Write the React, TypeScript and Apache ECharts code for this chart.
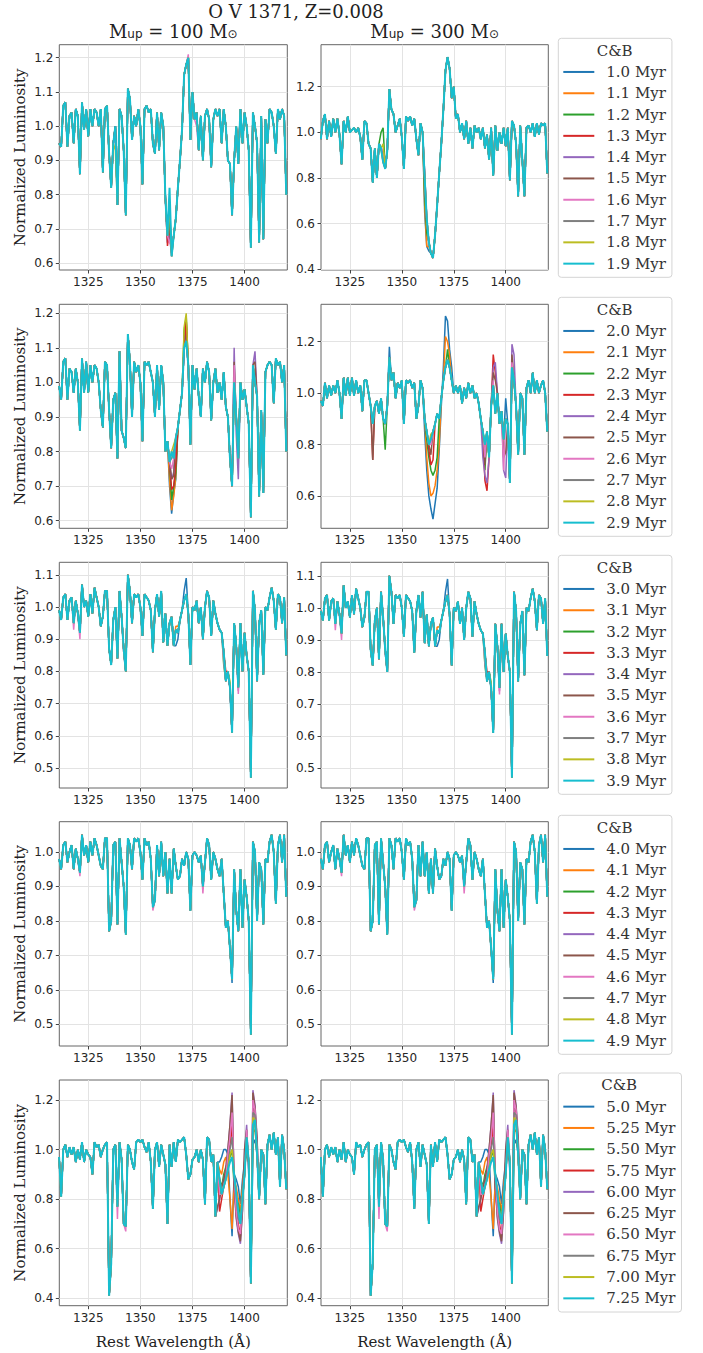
import React, { useEffect, useRef } from 'react';
import * as echarts from 'echarts';

// ---------------- DATA ----------------
const WAVELENGTHS: number[] = Array.from({ length: 110 }, (_, i) => 1311 + i);
const X_TICKS = [1325, 1350, 1375, 1400];

const TITLE = 'O V 1371, Z=0.008';
const COLUMN_MASSES = ['100', '300'];
const LEGEND_TITLE = 'C&B';

const AGES_1 = ['1.0 Myr', '1.1 Myr', '1.2 Myr', '1.3 Myr', '1.4 Myr', '1.5 Myr', '1.6 Myr', '1.7 Myr', '1.8 Myr', '1.9 Myr'];
const AGES_2 = ['2.0 Myr', '2.1 Myr', '2.2 Myr', '2.3 Myr', '2.4 Myr', '2.5 Myr', '2.6 Myr', '2.7 Myr', '2.8 Myr', '2.9 Myr'];
const AGES_3 = ['3.0 Myr', '3.1 Myr', '3.2 Myr', '3.3 Myr', '3.4 Myr', '3.5 Myr', '3.6 Myr', '3.7 Myr', '3.8 Myr', '3.9 Myr'];
const AGES_4 = ['4.0 Myr', '4.1 Myr', '4.2 Myr', '4.3 Myr', '4.4 Myr', '4.5 Myr', '4.6 Myr', '4.7 Myr', '4.8 Myr', '4.9 Myr'];
const AGES_5 = ['5.0 Myr', '5.25 Myr', '5.50 Myr', '5.75 Myr', '6.00 Myr', '6.25 Myr', '6.50 Myr', '6.75 Myr', '7.00 Myr', '7.25 Myr'];

const COLORS = ['#1f77b4', '#ff7f0e', '#2ca02c', '#d62728', '#9467bd', '#8c564b', '#e377c2', '#7f7f7f', '#bcbd22', '#17becf'];

const Y_TICKS_A = [0.6, 0.7, 0.8, 0.9, 1.0, 1.1, 1.2];
const Y_TICKS_B = [0.4, 0.6, 0.8, 1.0, 1.2];
const Y_TICKS_C = [0.6, 0.8, 1.0, 1.2];
const Y_TICKS_D = [0.5, 0.6, 0.7, 0.8, 0.9, 1.0, 1.1];
const Y_TICKS_E = [0.5, 0.6, 0.7, 0.8, 0.9, 1.0];

// Base spectra (line drawn on top, 1311..1420 A, 1 A steps)
const SPEC_1_100 = [
  0.95, 0.94, 1.06, 1.07, 0.94, 1.03, 1.04, 0.95, 1.05, 1.03,
  0.86, 1.07, 0.99, 1.05, 0.97, 1.05, 1.00, 1.05, 1.04, 1.00,
  1.05, 0.865, 1.05, 1.06, 0.92, 0.82, 0.95, 1.00, 0.77, 1.05,
  1.03, 0.93, 0.74, 1.11, 1.08, 0.96, 1.03, 1.00, 1.05, 1.00,
  0.83, 1.05, 1.06, 1.04, 1.05, 0.95, 0.92, 1.04, 0.93, 1.04,
  1.00, 0.79, 0.68, 0.82, 0.62, 0.68, 0.73, 0.82, 0.90, 0.99,
  1.15, 1.18, 1.20, 0.96, 1.10, 1.02, 1.04, 0.93, 1.03, 0.90,
  1.03, 1.05, 1.02, 0.88, 1.02, 1.05, 1.03, 1.05, 0.95, 1.05,
  1.00, 0.90, 0.89, 0.74, 0.90, 1.00, 0.89, 1.05, 0.95, 1.04,
  1.00, 0.93, 0.645, 1.04, 1.00, 0.95, 0.66, 1.03, 0.67, 1.02,
  0.95, 1.05, 1.04, 1.00, 0.92, 1.05, 1.02, 1.05, 1.03, 0.80,
];
const SPEC_1_300 = [
  0.97, 1.05, 1.08, 0.97, 1.05, 0.98, 1.06, 1.00, 1.06, 0.99,
  0.86, 1.05, 1.00, 1.07, 1.00, 1.01, 1.02, 1.00, 1.02, 0.98,
  0.88, 1.05, 1.04, 0.95, 0.93, 0.78, 0.93, 0.80, 0.95, 0.93,
  0.87, 0.84, 0.92, 1.19, 1.10, 1.08, 1.00, 1.03, 1.06, 0.98,
  0.84, 1.07, 1.05, 1.07, 1.03, 1.06, 0.97, 0.90, 1.04, 1.00,
  0.80, 0.62, 0.52, 0.47, 0.45, 0.55, 0.68, 0.82, 0.95, 1.10,
  1.27, 1.33, 1.28, 1.15, 1.20, 1.06, 1.08, 1.00, 1.04, 0.97,
  1.05, 0.95, 1.02, 0.93, 1.03, 1.00, 1.02, 0.97, 1.02, 0.93,
  0.99, 0.88, 1.02, 0.81, 1.03, 0.92, 1.00, 0.95, 1.02, 0.94,
  1.02, 0.79, 1.05, 1.03, 0.95, 0.72, 1.03, 0.88, 0.72, 1.02,
  1.03, 1.00, 1.04, 0.98, 1.04, 0.99, 1.04, 1.03, 1.04, 0.82,
];
const SPEC_2_100 = [
  0.99, 0.95, 1.06, 1.07, 0.95, 1.04, 1.03, 0.97, 1.04, 1.00,
  0.86, 1.07, 0.97, 1.06, 0.97, 1.05, 1.00, 1.05, 1.04, 1.00,
  0.92, 0.87, 1.06, 1.05, 0.92, 0.81, 0.95, 0.97, 0.78, 1.09,
  0.86, 0.84, 0.81, 1.14, 1.06, 0.90, 1.06, 1.03, 1.05, 1.00,
  0.83, 1.06, 1.05, 1.06, 1.03, 1.00, 0.90, 1.05, 0.92, 1.05,
  1.00, 0.80, 0.83, 0.77, 0.80, 0.78, 0.84, 0.87, 0.92, 0.97,
  1.10, 1.12, 1.05, 0.82, 1.05, 0.98, 1.04, 0.96, 0.90, 1.04,
  1.00, 1.06, 1.03, 0.89, 1.00, 1.04, 0.97, 1.00, 0.95, 1.03,
  0.93, 0.90, 0.78, 0.70, 1.00, 0.90, 0.78, 1.00, 0.95, 0.98,
  0.93, 0.88, 0.61, 1.05, 1.00, 0.96, 0.67, 0.92, 0.68, 1.03,
  1.05, 1.06, 1.05, 0.94, 1.07, 1.05, 1.06, 1.00, 1.05, 0.80,
];
const SPEC_2_300 = [
  0.97, 0.95, 1.04, 0.98, 1.03, 0.99, 1.03, 1.00, 1.05, 1.00,
  0.90, 1.06, 0.99, 1.06, 0.99, 1.06, 0.99, 1.05, 1.00, 1.03,
  0.93, 1.05, 1.05, 1.00, 0.95, 0.88, 0.95, 0.97, 0.92, 0.98,
  0.90, 0.88, 0.95, 1.14, 1.05, 1.08, 0.98, 1.04, 1.02, 1.05,
  0.88, 1.05, 1.04, 1.05, 1.02, 1.04, 0.90, 0.95, 1.05, 1.02,
  0.90, 0.85, 0.80, 0.82, 0.85, 0.88, 0.92, 0.90, 0.98, 1.05,
  1.10, 1.13, 1.10, 1.05, 1.00, 1.03, 1.00, 1.03, 0.96, 1.02,
  0.98, 1.04, 1.00, 1.03, 0.98, 1.00, 0.96, 0.90, 0.85, 0.80,
  0.85, 0.75, 0.95, 1.03, 0.92, 1.00, 0.88, 0.93, 0.82, 0.90,
  0.88, 0.65, 1.10, 1.05, 0.95, 0.76, 1.00, 0.98, 0.76, 1.02,
  1.05, 1.00, 1.08, 1.00, 1.05, 1.00, 1.03, 1.05, 1.00, 0.85,
];
const SPEC_3 = [
  0.99, 0.96, 1.03, 1.04, 0.96, 1.02, 1.03, 0.95, 1.02, 0.98,
  0.92, 1.07, 1.00, 1.02, 0.97, 1.04, 0.98, 1.06, 1.03, 1.00,
  0.94, 0.97, 1.05, 1.05, 0.87, 0.82, 0.96, 1.00, 0.84, 1.05,
  0.97, 0.87, 0.80, 1.10, 1.05, 0.95, 1.04, 1.03, 1.04, 1.00,
  0.91, 1.04, 1.03, 1.02, 0.99, 0.86, 0.99, 1.04, 0.97, 1.05,
  0.89, 0.98, 0.88, 0.95, 0.97, 0.88, 0.93, 0.92, 0.96, 0.99,
  1.02, 1.04, 0.98, 0.82, 1.00, 0.99, 1.02, 0.95, 1.00, 0.90,
  1.00, 1.05, 1.03, 0.91, 1.02, 0.98, 0.95, 0.93, 0.92, 0.86,
  0.77, 0.80, 0.75, 0.61, 0.95, 0.88, 0.75, 0.95, 0.80, 0.92,
  0.85, 0.80, 0.47, 1.05, 0.99, 0.77, 0.95, 0.99, 0.79, 1.00,
  0.99, 1.03, 1.06, 1.02, 0.93, 1.04, 1.03, 0.95, 1.03, 0.85,
];
const SPEC_4 = [
  0.98, 0.95, 1.02, 1.03, 0.97, 1.00, 1.02, 0.95, 1.01, 0.98,
  0.94, 1.05, 0.99, 1.02, 0.97, 1.03, 0.99, 1.04, 1.02, 0.99,
  0.96, 0.95, 1.04, 1.04, 0.77, 0.80, 1.02, 1.03, 0.79, 1.04,
  0.97, 0.90, 0.76, 1.04, 1.02, 0.95, 1.04, 1.03, 1.04, 1.00,
  0.92, 1.04, 1.02, 1.03, 0.98, 0.84, 0.86, 1.02, 0.93, 1.03,
  0.93, 1.00, 0.88, 0.98, 0.88, 1.01, 0.96, 0.92, 0.93, 0.98,
  0.96, 1.00, 0.98, 0.83, 0.99, 1.00, 0.99, 0.97, 0.99, 0.90,
  0.97, 1.04, 1.02, 0.92, 1.00, 0.98, 0.95, 0.93, 0.98, 0.88,
  0.78, 0.80, 0.72, 0.63, 0.95, 0.83, 0.77, 0.95, 0.78, 0.92,
  0.87, 0.80, 0.47, 1.03, 1.00, 0.80, 0.97, 0.95, 0.79, 0.98,
  0.97, 1.03, 1.05, 1.00, 0.85, 1.02, 1.05, 0.97, 1.05, 0.87,
];
const SPEC_5 = [
  0.97, 0.81, 1.00, 1.02, 0.97, 1.01, 0.98, 1.01, 0.95, 1.00,
  0.96, 1.03, 0.95, 1.00, 0.98, 0.97, 0.90, 1.03, 1.01, 1.02,
  0.97, 1.00, 1.02, 1.03, 0.41, 0.54, 1.00, 1.02, 0.77, 1.03,
  0.96, 0.70, 0.69, 1.02, 1.00, 0.95, 0.92, 1.03, 1.04, 1.03,
  1.04, 1.01, 0.99, 1.03, 0.95, 0.76, 1.00, 1.03, 0.93, 1.02,
  0.98, 0.94, 0.70, 1.02, 0.93, 1.03, 0.95, 1.04, 1.03, 1.04,
  1.05, 0.98, 0.88, 0.90, 0.96, 0.97, 1.00, 0.95, 1.00, 0.96,
  0.78, 1.05, 1.04, 0.95, 0.98, 0.73, 0.95, 0.88, 0.82, 0.85,
  0.88, 0.92, 0.95, 0.97, 0.90, 0.82, 0.75, 0.70, 0.80, 0.90,
  1.05, 0.95, 0.46, 1.10, 1.12, 0.98, 0.80, 1.00, 0.98, 0.78,
  1.02, 1.06, 1.00, 1.07, 0.98, 1.05, 0.85, 1.06, 1.00, 0.84,
];

// Where the other ages depart from the top line: [wavelength, value] for series 0..8
type Pt = [number, number];
const VAR_1_100: Pt[][] = [
  [[1363, 0.66], [1364, 0.72], [1365, 0.63]],
  [[1364, 0.75], [1365, 0.64]],
  [[1364, 0.74], [1365, 0.64]],
  [[1363, 0.65], [1364, 0.70], [1365, 0.64]],
  [[1364, 0.68], [1365, 0.62]],
  [[1364, 0.70], [1365, 0.63]],
  [[1338, 0.96], [1364, 0.66], [1365, 0.65], [1373, 1.21], [1377, 1.00]],
  [[1364, 0.78]],
  [[1338, 0.93], [1364, 0.76]],
];
const VAR_1_300: Pt[][] = [
  [[1341, 0.90], [1361, 0.65], [1362, 0.50], [1363, 0.48]],
  [[1361, 0.68], [1362, 0.50], [1363, 0.50]],
  [[1340, 1.00], [1341, 1.02], [1361, 0.72], [1362, 0.56]],
  [[1341, 0.90], [1361, 0.78], [1362, 0.60]],
  [[1341, 0.92], [1361, 0.82], [1362, 0.62]],
  [[1341, 0.90], [1361, 0.82]],
  [[1341, 0.92], [1361, 0.81]],
  [[1361, 0.80]],
  [[1341, 0.95]],
];
const VAR_2_100: Pt[][] = [
  [[1364, 0.70], [1365, 0.62], [1366, 0.68], [1367, 0.72], [1372, 1.15]],
  [[1364, 0.72], [1365, 0.63], [1366, 0.67], [1367, 0.73]],
  [[1365, 0.66], [1366, 0.70], [1367, 0.74], [1371, 1.15], [1372, 1.19]],
  [[1365, 0.69], [1366, 0.70], [1367, 0.76], [1372, 1.18]],
  [[1365, 0.72], [1366, 0.74], [1394, 0.70], [1395, 1.10], [1396, 0.85], [1397, 0.72], [1405, 1.09]],
  [[1365, 0.72], [1366, 0.73], [1395, 1.06], [1405, 1.06]],
  [[1365, 0.75], [1366, 0.78], [1395, 1.05]],
  [[1365, 0.78], [1366, 0.80]],
  [[1365, 0.80], [1366, 0.82], [1371, 1.16], [1372, 1.20]],
];
const VAR_2_300: Pt[][] = [
  [[1344, 1.18], [1361, 0.85], [1362, 0.70], [1363, 0.60], [1364, 0.55], [1365, 0.51], [1366, 0.57], [1367, 0.63], [1368, 0.78], [1369, 0.95], [1370, 1.10], [1371, 1.30], [1372, 1.28], [1373, 1.17], [1374, 1.10], [1400, 0.98]],
  [[1362, 0.75], [1363, 0.65], [1364, 0.60], [1365, 0.61], [1366, 0.64], [1367, 0.70], [1368, 0.80], [1371, 1.22], [1372, 1.20], [1373, 1.15]],
  [[1342, 0.78], [1362, 0.82], [1363, 0.75], [1364, 0.70], [1365, 0.68], [1366, 0.70], [1367, 0.75], [1372, 1.17], [1390, 0.70]],
  [[1336, 0.74], [1363, 0.78], [1364, 0.72], [1365, 0.74], [1390, 0.66], [1391, 0.62], [1394, 1.15], [1395, 1.08]],
  [[1389, 0.75], [1390, 0.68], [1391, 0.65], [1394, 1.10], [1395, 1.12], [1399, 0.70], [1400, 0.67], [1403, 1.19], [1404, 1.15]],
  [[1336, 0.74], [1364, 0.76], [1390, 0.72], [1394, 1.08], [1395, 1.05], [1399, 0.75], [1400, 0.77], [1403, 1.15]],
  [[1364, 0.80], [1390, 0.75], [1394, 1.05], [1399, 0.70], [1403, 1.12]],
  [[1364, 0.83], [1403, 1.10]],
  [[1364, 0.84], [1365, 0.85], [1403, 1.10]],
];
const VAR_3: Pt[][] = [
  [[1367, 0.88], [1368, 0.90], [1371, 1.05], [1372, 1.09]],
  [[1367, 0.94], [1368, 0.94]],
  [[1390, 0.82]],
  [[1391, 0.80]],
  [[1397, 0.74]],
  [[1342, 0.86]],
  [[1318, 0.93], [1321, 0.90], [1342, 0.86], [1390, 0.83], [1397, 0.73]],
  [],
  [[1393, 0.77]],
];
const VAR_4: Pt[][] = [
  [[1394, 0.62]],
  [], [], [], [], [],
  [[1321, 0.93], [1356, 0.83], [1380, 0.88]],
  [], [],
];
const VAR_5: Pt[][] = [
  [[1388, 0.95], [1389, 0.97], [1390, 1.00], [1391, 1.00], [1392, 0.98], [1393, 0.80], [1394, 0.65], [1395, 0.90], [1396, 0.88], [1397, 0.85], [1398, 0.78], [1399, 0.88], [1400, 0.95], [1401, 0.98], [1404, 1.02], [1405, 1.04]],
  [[1388, 0.92], [1389, 0.90], [1390, 0.95], [1391, 0.97], [1392, 0.90], [1393, 0.80], [1394, 0.68], [1395, 0.88], [1396, 0.85], [1397, 0.80], [1398, 0.75], [1399, 0.85], [1400, 0.95], [1401, 1.02], [1404, 1.07], [1405, 1.08]],
  [[1389, 0.85], [1390, 0.90], [1391, 0.93], [1392, 0.95], [1393, 0.97], [1394, 1.00], [1395, 0.85], [1396, 0.80], [1397, 0.78], [1398, 0.72], [1404, 1.12], [1405, 1.10]],
  [[1388, 0.75], [1389, 0.80], [1390, 0.85], [1391, 0.90], [1392, 0.98], [1393, 1.02], [1394, 1.10], [1395, 0.85], [1396, 0.75], [1397, 0.70], [1398, 0.65], [1404, 1.18], [1405, 1.15]],
  [[1387, 0.76], [1388, 0.80], [1389, 0.85], [1390, 0.88], [1391, 0.92], [1392, 1.00], [1393, 1.10], [1394, 1.23], [1395, 0.85], [1396, 0.72], [1397, 0.66], [1398, 0.62], [1399, 0.75], [1400, 1.00], [1401, 1.10], [1402, 0.90], [1404, 1.24], [1405, 1.18], [1406, 1.05]],
  [[1387, 0.77], [1388, 0.80], [1389, 0.85], [1390, 0.88], [1391, 0.92], [1392, 1.00], [1393, 1.10], [1394, 1.22], [1395, 0.86], [1396, 0.73], [1397, 0.67], [1398, 0.63], [1399, 0.76], [1400, 1.00], [1401, 1.08], [1402, 0.92], [1404, 1.23], [1405, 1.17], [1406, 1.04]],
  [[1339, 0.72], [1343, 0.67], [1388, 0.82], [1392, 0.98], [1393, 1.05], [1394, 1.15], [1396, 0.75], [1397, 0.68], [1398, 0.66], [1401, 1.08], [1404, 1.20], [1405, 1.16]],
  [[1393, 1.00], [1394, 1.05], [1397, 0.72], [1398, 0.70], [1404, 1.15], [1405, 1.14]],
  [[1393, 0.98], [1394, 1.00], [1398, 0.72], [1404, 1.13]],
];

// panel definitions (row-major: left = 100 Msun, right = 300 Msun)
const PANELS = [
  { spec: SPEC_1_100, vars: VAR_1_100, yMin: 0.58, yMax: 1.238, yTicks: Y_TICKS_A, names: AGES_1 },
  { spec: SPEC_1_300, vars: VAR_1_300, yMin: 0.397, yMax: 1.384, yTicks: Y_TICKS_B, names: AGES_1 },
  { spec: SPEC_2_100, vars: VAR_2_100, yMin: 0.578, yMax: 1.226, yTicks: Y_TICKS_A, names: AGES_2 },
  { spec: SPEC_2_300, vars: VAR_2_300, yMin: 0.474, yMax: 1.3455, yTicks: Y_TICKS_C, names: AGES_2 },
  { spec: SPEC_3, vars: VAR_3, yMin: 0.438, yMax: 1.139, yTicks: Y_TICKS_D, names: AGES_3 },
  { spec: SPEC_3, vars: VAR_3, yMin: 0.438, yMax: 1.142, yTicks: Y_TICKS_D, names: AGES_3 },
  { spec: SPEC_4, vars: VAR_4, yMin: 0.437, yMax: 1.088, yTicks: Y_TICKS_E, names: AGES_4 },
  { spec: SPEC_4, vars: VAR_4, yMin: 0.437, yMax: 1.088, yTicks: Y_TICKS_E, names: AGES_4 },
  { spec: SPEC_5, vars: VAR_5, yMin: 0.370, yMax: 1.281, yTicks: Y_TICKS_B, names: AGES_5 },
  { spec: SPEC_5, vars: VAR_5, yMin: 0.370, yMax: 1.281, yTicks: Y_TICKS_B, names: AGES_5 },
];
const ROW_NAMES = [AGES_1, AGES_2, AGES_3, AGES_4, AGES_5];

// ---------------- LAYOUT ----------------
const X_MIN = 1311.1;
const X_MAX = 1420.5;
const COL_LEFT = [59.3, 321];
const COL_WIDTH = [228, 227.3];
const ROW_TOP = [44.7, 304.3, 562.3, 821.7, 1080];
const ROW_HEIGHT = [225.3, 224, 225.7, 224.3, 225.7];
const LEGEND_TOP = [38.3, 297.3, 555.3, 815.3, 1073];
const LEGEND_TITLE_X = [614.6, 614.6, 614.6, 614.6, 619.2];

const SERIF = '"DejaVu Serif", serif';
const SANS = '"DejaVu Sans", sans-serif';

function buildData(spec: number[], overrides: Pt[]): [number, number][] {
  const m = new Map<number, number>(overrides);
  return WAVELENGTHS.map((w, i) => [w, m.has(w) ? (m.get(w) as number) : spec[i]]);
}

function buildOption() {
  const grid: any[] = [];
  const xAxis: any[] = [];
  const yAxis: any[] = [];
  const series: any[] = [];
  PANELS.forEach((p, i) => {
    const row = Math.floor(i / 2);
    const col = i % 2;
    grid.push({
      left: COL_LEFT[col], top: ROW_TOP[row], width: COL_WIDTH[col], height: ROW_HEIGHT[row],
      show: true, borderColor: '#666', borderWidth: 1, backgroundColor: 'transparent',
      containLabel: false, outerBoundsMode: 'none',
    });
    xAxis.push({
      type: 'value', gridIndex: i, min: X_MIN, max: X_MAX, splitNumber: 4,
      splitLine: { show: false }, axisLine: { show: false },
      axisTick: { show: true, length: 3.5, lineStyle: { color: '#444', width: 1 }, customValues: X_TICKS },
      axisLabel: { customValues: X_TICKS, fontSize: 12, fontFamily: SANS, color: '#262626', margin: 6, formatter: (v: number) => String(Math.round(v)) },
    });
    yAxis.push({
      type: 'value', gridIndex: i, min: p.yMin, max: p.yMax,
      splitLine: { show: false }, axisLine: { show: false },
      axisTick: { show: true, length: 3.5, lineStyle: { color: '#444', width: 1 }, customValues: p.yTicks },
      axisLabel: { customValues: p.yTicks, fontSize: 12, fontFamily: SANS, color: '#262626', margin: 6, formatter: (v: number) => v.toFixed(1) },
    });
    series.push({
      type: 'line', xAxisIndex: i, yAxisIndex: i, data: [], silent: true, z: 1,
      markLine: {
        silent: true, symbol: ['none', 'none'], z: 1, label: { show: false },
        lineStyle: { color: '#e3e3e3', width: 1, type: 'solid' },
        emphasis: { disabled: true },
        data: [...X_TICKS.map((v) => ({ xAxis: v })), ...p.yTicks.map((v) => ({ yAxis: v }))],
      },
    });
    p.names.forEach((name, s) => {
      series.push({
        type: 'line', name, xAxisIndex: i, yAxisIndex: i,
        data: buildData(p.spec, s < 9 ? p.vars[s] : []),
        symbol: 'none', showSymbol: false, silent: true, z: 2,
        lineStyle: { width: s === 9 ? 2 : 1.5, color: COLORS[s] }, itemStyle: { color: COLORS[s] },
        emphasis: { disabled: true },
      });
    });
  });

  const legend = ROW_NAMES.map((names, r) => ({
    orient: 'vertical', left: 558.3, top: LEGEND_TOP[r],
    padding: [23, 6, 3, 5], itemGap: 0, itemWidth: 31, itemHeight: 2, icon: 'rect',
    selectedMode: false,
    textStyle: { fontFamily: SERIF, fontSize: 15, color: '#333', lineHeight: 21.3, padding: [0, 0, 0, 7] },
    borderColor: '#d4d4d4', borderWidth: 1, borderRadius: 3, backgroundColor: '#fff',
    data: names,
  }));

  const rich = {
    m: { fontFamily: SERIF, fontSize: 18, fill: '#222', lineHeight: 17 },
    s: { fontFamily: SANS, fontSize: 12, fill: '#222', lineHeight: 11, verticalAlign: 'bottom' },
  };
  const graphic: any[] = [
    { type: 'text', x: 296, y: 11, style: { text: TITLE, fontFamily: SERIF, fontSize: 18, fill: '#222', align: 'center', verticalAlign: 'middle' } },
  ];
  COLUMN_MASSES.forEach((m, c) => {
    graphic.push({
      type: 'text', x: COL_LEFT[c] + COL_WIDTH[c] / 2, y: 31,
      style: { text: `{m|M}{s|up}{m| = ${m} M}{s|⊙}`, rich, align: 'center', verticalAlign: 'middle' },
    });
    graphic.push({
      type: 'text', x: COL_LEFT[c] + COL_WIDTH[c] / 2, y: 1341.7,
      style: { text: 'Rest Wavelength (Å)', fontFamily: SERIF, fontSize: 15, fill: '#222', align: 'center', verticalAlign: 'middle' },
    });
  });
  ROW_TOP.forEach((t, r) => {
    graphic.push({
      type: 'text', x: 20, y: t + ROW_HEIGHT[r] / 2, rotation: Math.PI / 2,
      style: { text: 'Normalized Luminosity', fontFamily: SERIF, fontSize: 15, fill: '#222', align: 'center', verticalAlign: 'middle' },
    });
    graphic.push({
      type: 'text', x: LEGEND_TITLE_X[r], y: LEGEND_TOP[r] + 12.4, z: 100,
      style: { text: LEGEND_TITLE, fontFamily: SERIF, fontSize: 15, fill: '#333', align: 'center', verticalAlign: 'middle' },
    });
  });

  return { animation: false, backgroundColor: '#fff', grid, xAxis, yAxis, series, legend, graphic };
}

export default function App() {
  const ref = useRef<HTMLDivElement>(null);
  useEffect(() => {
    document.body.style.margin = '0';
    if (!ref.current) return;
    const chart = echarts.init(ref.current, undefined, { renderer: 'svg' });
    chart.setOption(buildOption() as any);
    return () => chart.dispose();
  }, []);
  return <div ref={ref} style={{ width: 703, height: 1353 }} />;
}
